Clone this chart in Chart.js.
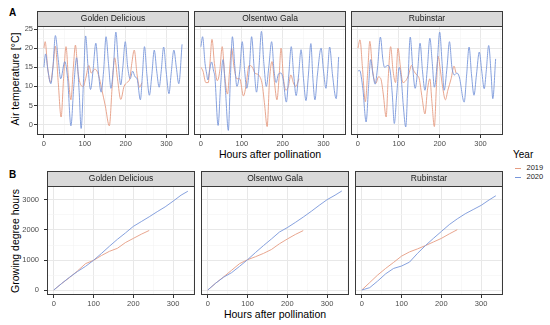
<!DOCTYPE html>
<html><head><meta charset="utf-8">
<script src="https://cdn.jsdelivr.net/npm/chart.js@4.4.1/dist/chart.umd.min.js"></script>
<style>
html,body{margin:0;padding:0;background:#fff;}
#wrap{position:relative;width:550px;height:325px;overflow:hidden;background:#fff;font-family:"Liberation Sans",Arial,sans-serif;}
#wrap canvas{position:absolute;}
.lbl{position:absolute;white-space:nowrap;color:#000;line-height:1;transform:translate(-50%,-50%);}
.lft{position:absolute;white-space:nowrap;color:#000;line-height:1;transform:translate(0,-50%);}
.key{position:absolute;height:1px;width:6px;}
</style></head><body>
<div id="wrap">
 <div class="lbl" style="left:12.5px;top:13px;font-weight:bold;font-size:10px;">A</div>
 <div class="lbl" style="left:12.5px;top:174.5px;font-weight:bold;font-size:10px;">B</div>
 <div class="lbl" style="left:15px;top:79px;font-size:10.5px;transform:translate(-50%,-50%) rotate(-90deg);">Air temperature [°C]</div>
 <div class="lbl" style="left:15px;top:241px;font-size:10.5px;transform:translate(-50%,-50%) rotate(-90deg);">Growing degree hours</div>
 <div class="lbl" style="left:270px;top:154px;font-size:10.5px;">Hours after pollination</div>
 <div class="lbl" style="left:275px;top:314px;font-size:10.5px;">Hours after pollination</div>
 <div class="lft" style="left:513px;top:154.5px;font-size:10px;">Year</div>
 <div class="key" id="k19" style="left:515px;top:168px;"></div>
 <div class="key" id="k20" style="left:515px;top:177px;"></div>
 <div class="lft" style="left:526.5px;top:168px;font-size:7.5px;color:#1a1a1a;">2019</div>
 <div class="lft" style="left:526.5px;top:177px;font-size:7.5px;color:#1a1a1a;">2020</div>
</div>
<script>
// ---------- DATA ----------
const cultivars = ["Golden Delicious", "Olsentwo Gala", "Rubinstar"];
const years = ["2019", "2020"];

// tick positions (labelled ones are the multiples of 100 / 5 / 1000)
const xTicks   = [0, 50, 100, 150, 200, 250, 300, 350];
const tempTicks = [-2.5, 0, 2.5, 5, 7.5, 10, 12.5, 15, 17.5, 20, 22.5, 25];
const gdhTicks  = [0, 500, 1000, 1500, 2000, 2500, 3000];

// Panel A: air temperature (°C) vs hours after pollination
const hoursGD2019 = [0,3,9,16,22,28,35,42,48,54,60,66,72,77,83,88,96,102,110,116,124,130,136,142,150,160,167,173,180,188,196,203,210,215,221,228,234,240];
const tempGD2019  = [20,21.7,15,11,15,20.5,11,2,12,20.4,12,6.5,15,20.8,14,11,10,12,15.5,13.5,14.5,14,12,9,5,-0.3,10,17.5,12,6.6,10,11,12,16,19.5,13,9.8,11];
const hoursGD2020 = [0,4,10,17,22,28,35,41,51,58,66,73,80,86,91,97,102,108,114,120,127,133,140,146,152,158,164,170,176,182,188,193,199,205,211,217,223,228,236,241,246,252,258,264,270,276,282,287,293,299,306,311,318,324,330,338];
const tempGD2020  = [15,18.5,14,10.7,15,23.3,17,12,16.5,12,-0.3,10,17.5,9,-1,12,23.2,15,9.2,14,21.3,14,8.5,14,23,16,9.5,15,24.2,16,10.4,15,21.7,15,12,14,12.5,12,6.5,13,20.4,13,7.7,13,19.5,14,9.8,14,20.3,14,8.1,13,19.5,15,10.7,21];
const hoursOG2019 = [0,5,12,18,22,27,33,40,46,52,58,65,70,75,81,88,95,104,110,118,126,132,141,150,156,162,168,174,180,186,191,196,202,208,214,220,226,232,240];
const tempOG2019  = [15,14,11,11,16,22.3,16,11.5,14,20.4,13,8,14,20,15,12,12,7.5,10,15.5,15,13.5,13,10.5,5,-0.5,12,16.5,11,6.5,12,20,12,9,10,13,11,10,12];
const hoursOG2020 = [0,4,10,14,17,21,26,31,34,42,48,54,60,67,72,77,83,88,95,101,107,112,118,124,130,136,142,148,154,160,166,173,179,184,190,196,201,209,215,221,227,233,239,245,251,257,263,269,274,279,285,294,300,306,310,315,322,331,337];
const tempOG2020  = [20.4,23,16,13.3,11.7,14,16.4,14,12.6,-0.2,10,17,9,-1.5,12,23,15,10,14,21.7,14,9.5,14,23,15,8.5,15,24.4,16,10,15,21.7,14,11,13.3,13.5,12,5.9,13,20.4,13,7.6,13,19.6,12,6.3,13,21.2,12,6.5,13,20,14,9.5,14,20.3,13,6.8,17.7];
const hoursRU2019 = [0,5,11,18,24,29,36,44,50,56,62,69,74,80,86,92,98,104,110,117,124,131,137,144,150,157,164,170,176,181,187,192,196,202,207,214,220,228,235,240];
const tempRU2019  = [20,22.2,15,6,14,21.8,14,10.8,12.5,12,8,2,12,20.4,14,11,20,15,11,11.5,13,15.5,14,13,12,7,2.8,9,12,6,-0.5,10,17.9,14,10,6.5,9,12,15.3,13.5];
const hoursRU2020 = [0,4,12,20,26,31,37,42,48,55,61,65,73,79,84,89,95,101,106,111,117,122,128,134,140,146,152,158,164,170,176,182,187,194,200,206,211,218,224,230,236,242,248,260,266,272,278,284,290,297,303,309,314,320,326,330,337];
const tempRU2020  = [14,14.2,9.4,0.7,10,17,13,10.6,15,22.9,17,15,15.5,14,8,0.3,8,15,12,5,-0.6,10,22.9,15,9.5,14,21.3,14,9,15,22.6,16,9.8,16,24.2,16,9,15,21.7,15,13,13.5,12.5,5.9,13,20.3,13,7.7,13,19,14,9.4,14,20.7,13,6.8,17.2];

// Panel B: growing degree hours vs hours after pollination
const gdhHours2019 = [0,20,40,60,80,100,120,140,160,180,200,220,240];
const gdhHours2020 = [0,20,40,60,80,100,120,140,160,180,200,220,240,260,280,300,320,337];
const gdhGD2019 = [0,220,420,640,880,990,1150,1290,1390,1580,1720,1860,1985];
const gdhGD2020 = [0,220,430,620,790,990,1220,1460,1690,1900,2120,2280,2440,2610,2770,2960,3160,3290];
const gdhOG2019 = [0,230,440,660,880,1010,1110,1220,1350,1540,1700,1850,1980];
const gdhOG2020 = [0,230,430,580,790,1010,1250,1480,1700,1930,2080,2250,2430,2620,2820,3010,3160,3300];
const gdhRU2019 = [0,250,500,720,920,1130,1270,1370,1480,1600,1720,1870,2010];
const gdhRU2020 = [0,80,300,540,720,800,930,1220,1480,1720,1950,2180,2370,2540,2680,2820,3000,3140];

// ---------- DRAWING ----------
const C2019 = '#E59C82', C2020 = '#7896DA';
document.getElementById('k19').style.background = C2019;
document.getElementById('k20').style.background = C2020;
Chart.defaults.font.family = "'Liberation Sans', Arial, sans-serif";
const STRIP = 15, XT = 14;
const wrap = document.getElementById('wrap');
const pts = (xs, ys) => xs.map((x, i) => ({x: x, y: ys[i]}));
const isMul = (v, m) => Math.abs(v / m - Math.round(v / m)) < 1e-6;

const stripPlugin = {
  id: 'strip',
  afterDraw(chart) {
    const {ctx, chartArea: a} = chart;
    const name = chart.options.plugins.strip.name;
    const l = Math.round(a.left), r = Math.round(a.right), t = Math.round(a.top), b = Math.round(a.bottom);
    ctx.save();
    ctx.fillStyle = '#D9D9D9';
    ctx.fillRect(l, t - STRIP, r - l, STRIP);
    ctx.strokeStyle = '#3a3a3a'; ctx.lineWidth = 1;
    ctx.strokeRect(l + 0.5, t - STRIP + 0.5, r - l - 1, STRIP);
    ctx.strokeRect(l + 0.5, t + 0.5, r - l - 1, b - t - 1);
    ctx.fillStyle = '#1A1A1A';
    ctx.font = "8.5px 'Liberation Sans', Arial, sans-serif";
    ctx.textAlign = 'center'; ctx.textBaseline = 'middle';
    ctx.fillText(name, (l + r) / 2, t - STRIP / 2 + 0.5);
    ctx.restore();
  }
};

function panel(row, col) {
  const L = row.lefts[col], lm = col === 0 ? row.lm : 0;
  const W = lm + row.width + 2, H = STRIP + row.plotH + XT;
  const cv = document.createElement('canvas');
  cv.width = W; cv.height = H;
  cv.style.left = (L - lm) + 'px'; cv.style.top = (row.top - STRIP) + 'px';
  cv.style.width = W + 'px'; cv.style.height = H + 'px';
  wrap.appendChild(cv);
  const s = row.series[col];
  const mode = row.smooth ? 'monotone' : 'default';
  const datasets = [
    {label: '2020', data: s[1], borderColor: C2020, borderWidth: 0.9, pointRadius: 0, fill: false, order: 0,
     cubicInterpolationMode: mode, tension: 0},
    {label: '2019', data: s[0], borderColor: C2019, borderWidth: 0.9, pointRadius: 0, fill: false, order: 1,
     cubicInterpolationMode: mode, tension: 0}
  ];
  new Chart(cv, {
    type: 'line',
    data: {datasets},
    options: {
      responsive: false, animation: false, devicePixelRatio: 1,
      layout: {padding: {top: STRIP, right: 2, left: 0, bottom: 0}},
      plugins: {legend: {display: false}, tooltip: {enabled: false}, strip: {name: cultivars[col]}},
      scales: {
        x: {
          type: 'linear', min: -17, max: 355,
          border: {display: false},
          afterBuildTicks: sc => { sc.ticks = xTicks.map(v => ({value: v})); },
          grid: {
            color: c => (c.tick && isMul(c.tick.value, 100)) ? '#E8E8E8' : '#F4F4F4',
            lineWidth: c => (c.tick && isMul(c.tick.value, 100)) ? 1 : 0.6,
            tickColor: c => (c.tick && isMul(c.tick.value, 100)) ? '#333333' : 'rgba(0,0,0,0)',
            tickLength: 3, drawTicks: true
          },
          ticks: {autoSkip: false, maxRotation: 0, minRotation: 0, padding: 1,
                  color: '#4D4D4D', font: {size: 7.5},
                  callback: v => isMul(v, 100) ? String(v) : ''},
          afterFit: sc => { sc.height = XT; sc.paddingLeft = 0; sc.paddingRight = 0; }
        },
        y: {
          type: 'linear', min: row.ymin, max: row.ymax,
          border: {display: false},
          afterBuildTicks: sc => { sc.ticks = row.ticks.map(v => ({value: v})); },
          grid: {
            color: c => (c.tick && isMul(c.tick.value, row.major)) ? '#E8E8E8' : '#F4F4F4',
            lineWidth: c => (c.tick && isMul(c.tick.value, row.major)) ? 1 : 0.6,
            tickColor: c => (c.tick && isMul(c.tick.value, row.major)) ? '#333333' : 'rgba(0,0,0,0)',
            tickLength: 3, drawTicks: col === 0
          },
          ticks: {display: col === 0, autoSkip: false, padding: row.ypad,
                  color: '#4D4D4D', font: {size: 7.5},
                  callback: v => isMul(v, row.major) ? String(v) : ''},
          afterFit: sc => { sc.width = lm; sc.paddingTop = 0; sc.paddingBottom = 0; }
        }
      }
    },
    plugins: [stripPlugin]
  });
}

const rowA = {top: 26, plotH: 109, lefts: [37, 194, 351], width: 152, lm: 19, ypad: 1,
  ymin: -2.7, ymax: 25.8, ticks: tempTicks, major: 5, smooth: true,
  series: [
    [pts(hoursGD2019, tempGD2019), pts(hoursGD2020, tempGD2020)],
    [pts(hoursOG2019, tempOG2019), pts(hoursOG2020, tempOG2020)],
    [pts(hoursRU2019, tempRU2019), pts(hoursRU2020, tempRU2020)]
  ]};
const rowB = {top: 186, plotH: 109, lefts: [47, 201, 355], width: 148, lm: 29, ypad: 5,
  ymin: -165, ymax: 3465, ticks: gdhTicks, major: 1000, smooth: false,
  series: [
    [pts(gdhHours2019, gdhGD2019), pts(gdhHours2020, gdhGD2020)],
    [pts(gdhHours2019, gdhOG2019), pts(gdhHours2020, gdhOG2020)],
    [pts(gdhHours2019, gdhRU2019), pts(gdhHours2020, gdhRU2020)]
  ]};
[rowA, rowB].forEach(r => [0, 1, 2].forEach(c => panel(r, c)));
</script>
</body></html>
